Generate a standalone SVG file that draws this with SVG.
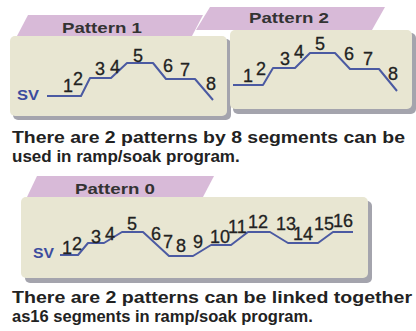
<svg xmlns="http://www.w3.org/2000/svg" width="416" height="331" viewBox="0 0 416 331">
<defs>
<style>
.body{fill:#e8e6d2;}
.shadow{fill:#a4a4ad;}
.tab{fill:#d8bad8;}
.tl{font-family:"Liberation Sans",Arial,sans-serif;font-weight:bold;font-size:15px;fill:#333;}
.num{font-family:"Liberation Sans",Arial,sans-serif;font-size:18px;fill:#222;stroke:#222;stroke-width:0.3;}
.sv{font-family:"Liberation Sans",Arial,sans-serif;font-weight:bold;font-size:15px;fill:#3b4c9e;}
.para{font-family:"Liberation Sans",Arial,sans-serif;font-weight:bold;font-size:17px;fill:#222;}
.para2{font-family:"Liberation Sans",Arial,sans-serif;font-weight:bold;font-size:16.5px;fill:#222;}
.curve{fill:none;stroke:#4b5aa2;stroke-width:2;stroke-linejoin:round;}
</style>
</defs>
<rect width="416" height="331" fill="#ffffff"/>

<g id="pattern1">
<rect class="shadow" x="13" y="39" width="218" height="81" rx="5"/>
<rect class="body" x="10" y="36" width="217" height="80" rx="5"/>
<polygon class="tab" points="17,36 28,15 203,15 192,36"/>
<text class="tl" x="62" y="33" textLength="80" lengthAdjust="spacingAndGlyphs">Pattern 1</text>
<text class="sv" x="17" y="100" textLength="22" lengthAdjust="spacingAndGlyphs">SV</text>
<polyline class="curve" points="47,96 81,96 90,78 111,78 127,63 153,63 166,79 195,79 213,100"/>
<text class="num" x="63" y="92">1</text>
<text class="num" x="73" y="85">2</text>
<text class="num" x="95" y="75">3</text>
<text class="num" x="110" y="73">4</text>
<text class="num" x="133" y="62">5</text>
<text class="num" x="163" y="72">6</text>
<text class="num" x="180" y="76">7</text>
<text class="num" x="206" y="90">8</text>
</g>

<g id="pattern2">
<rect class="shadow" x="233" y="33" width="183" height="81" rx="5"/>
<rect class="body" x="230" y="30" width="182" height="79" rx="5"/>
<polygon class="tab" points="196,30 210,7 385,7 372,30"/>
<text class="tl" x="249" y="23" textLength="80" lengthAdjust="spacingAndGlyphs">Pattern 2</text>
<polyline class="curve" points="233,85 263,85 273,68 295,68 310,53 335,53 350,69 379,69 397,91"/>
<text class="num" x="243" y="82">1</text>
<text class="num" x="256" y="75">2</text>
<text class="num" x="280" y="65">3</text>
<text class="num" x="294" y="58">4</text>
<text class="num" x="315" y="50">5</text>
<text class="num" x="344" y="60">6</text>
<text class="num" x="363" y="65">7</text>
<text class="num" x="388" y="80">8</text>
</g>

<g id="text1">
<text class="para" x="12" y="143" textLength="393" lengthAdjust="spacingAndGlyphs">There are 2 patterns by 8 segments can be</text>
<text class="para" x="12" y="162">used in ramp/soak program.</text>
</g>

<g id="pattern0">
<rect class="shadow" x="25" y="201" width="347" height="82" rx="5"/>
<rect class="body" x="21" y="197" width="347" height="81" rx="5"/>
<polygon class="tab" points="27,197 37,176 214,176 203,197"/>
<text class="tl" x="75" y="194" textLength="80" lengthAdjust="spacingAndGlyphs">Pattern 0</text>
<text class="sv" x="33" y="258" textLength="21" lengthAdjust="spacingAndGlyphs">SV</text>
<polyline class="curve" points="60,255 78,255 88,243 104,243 122,232 143,232 169,256 193,256 211,245 231,245 248,232 270,232 288,243 318,243 333,232 353,232"/>
<text class="num" x="62" y="254">1</text>
<text class="num" x="72" y="250">2</text>
<text class="num" x="91" y="243">3</text>
<text class="num" x="105" y="240">4</text>
<text class="num" x="127" y="230">5</text>
<text class="num" x="151" y="240">6</text>
<text class="num" x="163" y="248">7</text>
<text class="num" x="176" y="252">8</text>
<text class="num" x="193" y="248">9</text>
<text class="num" x="210" y="243">10</text>
<text class="num" x="228" y="233">11</text>
<text class="num" x="248" y="228">12</text>
<text class="num" x="276" y="230">13</text>
<text class="num" x="293" y="240">14</text>
<text class="num" x="314" y="230">15</text>
<text class="num" x="333" y="227">16</text>
</g>

<g id="text2">
<text class="para2" x="12" y="303" textLength="400" lengthAdjust="spacingAndGlyphs">There are 2 patterns can be linked together</text>
<text class="para2" x="12" y="322">as16 segments in ramp/soak program.</text>
</g>
</svg>
